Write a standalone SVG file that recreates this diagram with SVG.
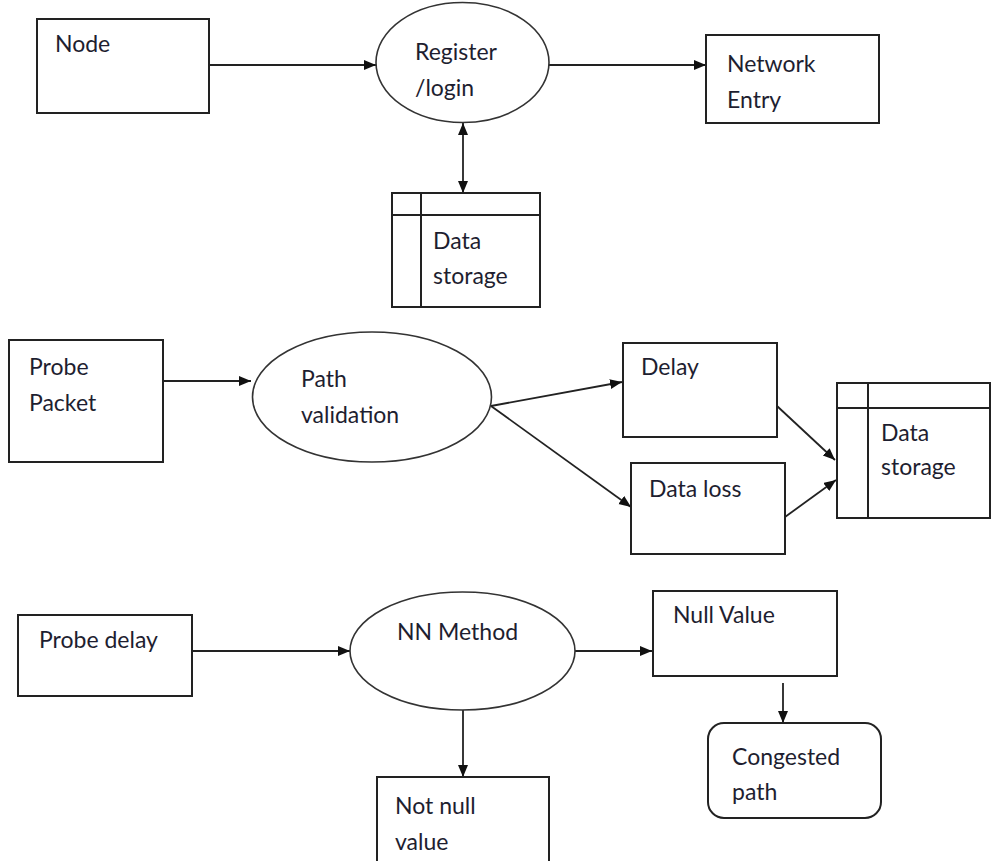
<svg xmlns="http://www.w3.org/2000/svg" width="991" height="861" viewBox="0 0 991 861">
<style>
.box{fill:#fff;stroke:#222;stroke-width:2}
.ell{fill:#fff;stroke:#333;stroke-width:1.6}
.ln{fill:none;stroke:#222;stroke-width:2}
.t{font-family:Lato,"Liberation Sans",sans-serif;font-size:23px;fill:#1e1e30}
.c{fill:none;stroke:#222;stroke-width:1.8}
</style>
<defs>
<marker id="ah" markerUnits="userSpaceOnUse" markerWidth="14" markerHeight="12" refX="12" refY="5" orient="auto-start-reverse" viewBox="0 0 14 12">
<path d="M0,0 L12,5 L0,10 z" fill="#111"/>
</marker>
</defs>
<rect width="991" height="861" fill="#fff"/>
<g id="connectors">
<line class="c" x1="209" y1="65" x2="376" y2="65" marker-end="url(#ah)"/>
<line class="c" x1="549" y1="65" x2="706" y2="65" marker-end="url(#ah)"/>
<line class="c" x1="463" y1="123" x2="463" y2="193" marker-start="url(#ah)" marker-end="url(#ah)"/>
<line class="c" x1="163" y1="381" x2="251" y2="381" marker-end="url(#ah)"/>
<line class="c" x1="491" y1="406" x2="622" y2="382" marker-end="url(#ah)"/>
<line class="c" x1="491" y1="406" x2="631" y2="507" marker-end="url(#ah)"/>
<line class="c" x1="777" y1="406" x2="835" y2="460" marker-end="url(#ah)"/>
<line class="c" x1="785" y1="517" x2="836" y2="480" marker-end="url(#ah)"/>
<line class="c" x1="192" y1="651" x2="350" y2="651" marker-end="url(#ah)"/>
<line class="c" x1="575" y1="651" x2="652" y2="651" marker-end="url(#ah)"/>
<line class="c" x1="463" y1="710" x2="463" y2="777" marker-end="url(#ah)"/>
<line class="c" x1="783" y1="683" x2="783" y2="723" marker-end="url(#ah)"/>
</g>
<g id="node">
<rect class="box" x="37" y="19" width="172" height="94"/>
<text class="t" x="55" y="52">Node</text>
</g>
<g id="register">
<ellipse class="ell" cx="462.5" cy="62.5" rx="86.5" ry="60"/>
<text class="t" x="415" y="60">Register</text>
<text class="t" x="415" y="96">/login</text>
</g>
<g id="network-entry">
<rect class="box" x="706" y="35" width="173" height="88"/>
<text class="t" x="727" y="72">Network</text>
<text class="t" x="727" y="108">Entry</text>
</g>
<g id="data-storage-1">
<rect class="box" x="392" y="193" width="148" height="114"/>
<line class="ln" x1="421" y1="193" x2="421" y2="307"/>
<line class="ln" x1="392" y1="215" x2="540" y2="215"/>
<text class="t" x="433" y="249">Data</text>
<text class="t" x="433" y="284">storage</text>
</g>
<g id="probe-packet">
<rect class="box" x="9" y="340" width="154" height="122"/>
<text class="t" x="29" y="375">Probe</text>
<text class="t" x="29" y="411">Packet</text>
</g>
<g id="path-validation">
<ellipse class="ell" cx="372" cy="397" rx="119.5" ry="65"/>
<text class="t" x="301" y="387">Path</text>
<text class="t" x="301" y="423">validation</text>
</g>
<g id="delay">
<rect class="box" x="623" y="343" width="154" height="94"/>
<text class="t" x="641" y="375">Delay</text>
</g>
<g id="data-loss">
<rect class="box" x="631" y="463" width="154" height="91"/>
<text class="t" x="649" y="497">Data loss</text>
</g>
<g id="data-storage-2">
<rect class="box" x="837" y="383" width="153" height="135"/>
<line class="ln" x1="868" y1="383" x2="868" y2="518"/>
<line class="ln" x1="837" y1="408" x2="990" y2="408"/>
<text class="t" x="881" y="441">Data</text>
<text class="t" x="881" y="475">storage</text>
</g>
<g id="probe-delay">
<rect class="box" x="18" y="615" width="174" height="81"/>
<text class="t" x="39" y="648">Probe delay</text>
</g>
<g id="nn-method">
<ellipse class="ell" cx="462.5" cy="651" rx="112.5" ry="59"/>
<text class="t" x="397" y="640">NN Method</text>
</g>
<g id="null-value">
<rect class="box" x="653" y="591" width="184" height="85"/>
<text class="t" x="673" y="623">Null Value</text>
</g>
<g id="congested-path">
<rect class="box" x="708" y="723" width="173" height="95" rx="16" ry="16"/>
<text class="t" x="732" y="765">Congested</text>
<text class="t" x="732" y="800">path</text>
</g>
<g id="not-null-value">
<rect class="box" x="377" y="777" width="172" height="90"/>
<text class="t" x="395" y="814">Not null</text>
<text class="t" x="395" y="850">value</text>
</g>
</svg>
